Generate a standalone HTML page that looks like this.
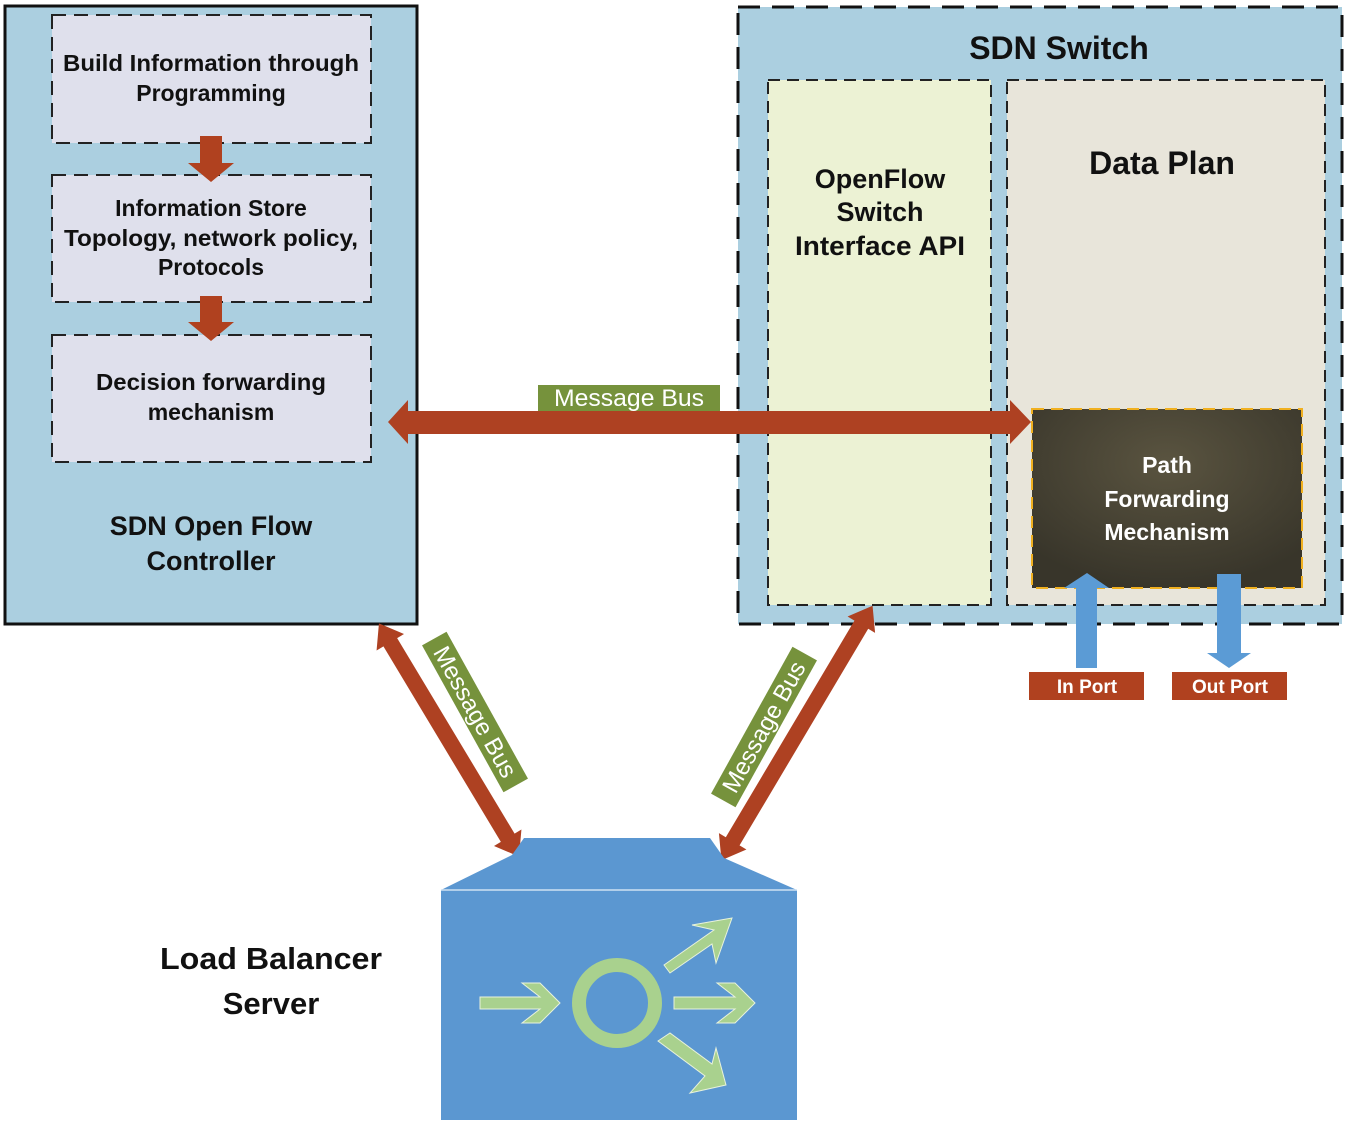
<!DOCTYPE html>
<html><head><meta charset="utf-8"><style>html,body{margin:0;padding:0;background:#fff}svg{display:block}</style></head>
<body>
<svg width="1347" height="1127" viewBox="0 0 1347 1127" xmlns="http://www.w3.org/2000/svg" font-family="Liberation Sans, sans-serif">
<defs>
<radialGradient id="pg" cx="50%" cy="30%" r="70%"><stop offset="0" stop-color="#5a5440"/><stop offset="1" stop-color="#38352a"/></radialGradient>
</defs>
<rect x="5" y="6" width="412" height="618" fill="#abcfe0" stroke="#111" stroke-width="3"/>
<g fill="#dfe0ec" stroke="#222" stroke-width="2" stroke-dasharray="14,8">
<rect x="52" y="15" width="319" height="128"/>
<rect x="52" y="175" width="319" height="127"/>
<rect x="52" y="335" width="319" height="127"/>
</g>
<g fill="#b0411f">
<polygon points="200,136 222,136 222,163 234,163 211,182 188,163 200,163"/>
<polygon points="200,296 222,296 222,322 234,322 211,341 188,322 200,322"/>
</g>
<g font-weight="bold" font-size="23" fill="#111" text-anchor="middle">
<text x="211" y="71" textLength="296" lengthAdjust="spacingAndGlyphs">Build Information through</text>
<text x="211" y="101">Programming</text>
<text x="211" y="216">Information Store</text>
<text x="211" y="246" textLength="294" lengthAdjust="spacingAndGlyphs">Topology, network policy,</text>
<text x="211" y="275">Protocols</text>
<text x="211" y="390" textLength="230" lengthAdjust="spacingAndGlyphs">Decision forwarding</text>
<text x="211" y="420">mechanism</text>
<text x="211" y="535" font-size="27">SDN Open Flow</text>
<text x="211" y="570" font-size="27">Controller</text>
</g>
<rect x="738" y="7" width="604" height="617" fill="#abcfe0" stroke="#111" stroke-width="3" stroke-dasharray="22,12"/>
<rect x="768" y="80" width="223" height="525" fill="#ecf2d4" stroke="#222" stroke-width="2" stroke-dasharray="12,7"/>
<rect x="1007" y="80" width="318" height="525" fill="#e8e5da" stroke="#222" stroke-width="2" stroke-dasharray="12,7"/>
<text x="1059" y="59" font-size="32" font-weight="bold" text-anchor="middle" fill="#111">SDN Switch</text>
<g font-weight="bold" font-size="27" fill="#111" text-anchor="middle">
<text x="880" y="188">OpenFlow</text>
<text x="880" y="221">Switch</text>
<text x="880" y="255" textLength="170" lengthAdjust="spacingAndGlyphs">Interface API</text>
<text x="1162" y="174" font-size="32">Data Plan</text>
</g>
<rect x="1032" y="409" width="270" height="179" fill="url(#pg)" stroke="#f0b020" stroke-width="2" stroke-dasharray="12,7"/>
<g font-weight="bold" font-size="23" fill="#fff" text-anchor="middle">
<text x="1167" y="473">Path</text>
<text x="1167" y="507">Forwarding</text>
<text x="1167" y="540">Mechanism</text>
</g>
<polygon fill="#ae4122" points="388,422 408,400 408,411 1010,411 1010,400 1031,422 1010,444 1010,434 408,434 408,444"/>
<rect x="538" y="385" width="182" height="26" fill="#76923c"/>
<text x="629" y="406" font-size="24" fill="#fff" text-anchor="middle" textLength="150" lengthAdjust="spacingAndGlyphs">Message Bus</text>
<g fill="#5b9bd5">
<polygon points="1076,668 1097,668 1097,588 1109,588 1087,573 1064,588 1076,588"/>
<polygon points="1217,574 1241,574 1241,653 1251,653 1229,668 1207,653 1217,653"/>
</g>
<g fill="#b0411f"><rect x="1029" y="672" width="115" height="28"/><rect x="1172" y="672" width="115" height="28"/></g>
<g font-weight="bold" font-size="19" fill="#fff" text-anchor="middle">
<text x="1087" y="693">In Port</text><text x="1230" y="693">Out Port</text>
</g>
<g fill="#ae4122">
<g transform="translate(449,740) rotate(59)">
<polygon points="-136,0 -114,-16 -114,-8 114,-8 114,-16 136,0 114,16 114,8 -114,8 -114,16"/>
</g>
<g transform="translate(797,733) rotate(-59.3)">
<polygon points="-148,0 -126,-16 -126,-8 126,-8 126,-16 148,0 126,16 126,8 -126,8 -126,16"/>
</g>
</g>
<g transform="translate(475,712) rotate(61)">
<rect x="-84" y="-14" width="168" height="28" fill="#76923c"/>
<text x="0" y="8" font-size="24" fill="#fff" text-anchor="middle" textLength="146" lengthAdjust="spacingAndGlyphs">Message Bus</text>
</g>
<g transform="translate(764,727) rotate(-61)">
<rect x="-84" y="-14" width="168" height="28" fill="#76923c"/>
<text x="0" y="8" font-size="24" fill="#fff" text-anchor="middle" textLength="146" lengthAdjust="spacingAndGlyphs">Message Bus</text>
</g>
<polygon fill="#5b97d1" points="524,838 710,838 724,858 797,890 797,1120 441,1120 441,890 512,855"/>
<line x1="441" y1="890" x2="797" y2="890" stroke="#cfe2f3" stroke-width="1.5"/>
<g fill="#a9d18e" stroke="#e8f2dc" stroke-width="1">
<circle cx="617" cy="1003" r="38" fill="none" stroke="#a9d18e" stroke-width="14"/>
<polygon points="480,997 540,997 522,983 540,983 560,1003 540,1023 522,1023 540,1009 480,1009"/>
<polygon points="674,997 735,997 717,983 735,983 755,1003 735,1023 717,1023 735,1009 674,1009"/>
<polygon points="664,965 714,930 692,925 732,918 716,963 712,944 670,973"/>
<polygon points="658,1041 670,1033 712,1064 716,1048 726,1085 690,1093 705,1076"/>
</g>
<g font-size="31" font-weight="bold" fill="#111" text-anchor="middle">
<text x="271" y="969" textLength="222" lengthAdjust="spacingAndGlyphs">Load Balancer</text>
<text x="271" y="1014">Server</text>
</g>
</svg>
</body></html>
